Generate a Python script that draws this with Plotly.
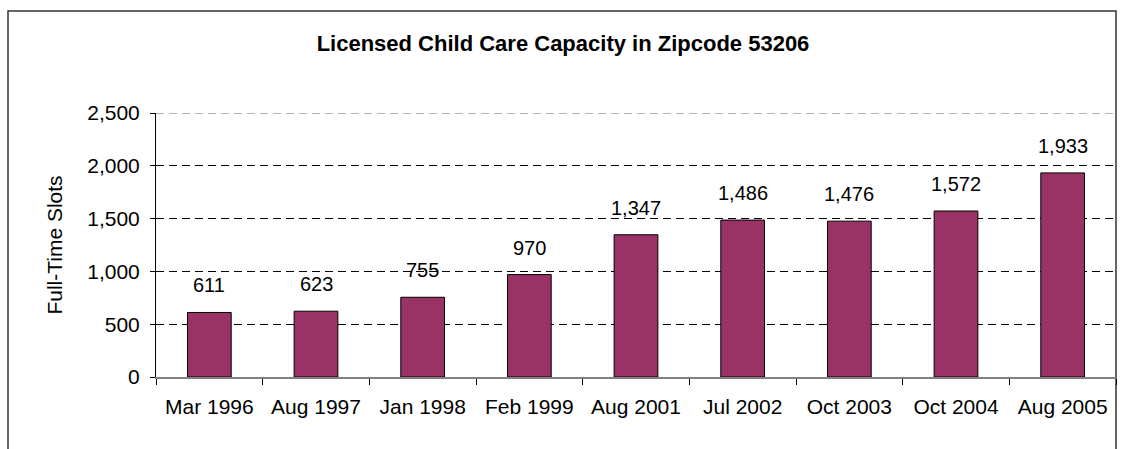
import plotly.graph_objects as go

categories = ["Mar 1996", "Aug 1997", "Jan 1998", "Feb 1999", "Aug 2001",
              "Jul 2002", "Oct 2003", "Oct 2004", "Aug 2005"]
slots = [611, 623, 755, 970, 1347, 1486, 1476, 1572, 1933]
y_ticks = [0, 500, 1000, 1500, 2000, 2500]

FONT = "Liberation Sans, Arial, sans-serif"
W, H = 1126, 449
L, R, T, B = 156, 1116, 113, 377

fig = go.Figure()
fig.add_trace(go.Bar(
    x=categories, y=slots, width=0.41,
    marker=dict(color="#993366", line=dict(color="#000000", width=1)),
    hoverinfo="x+y",
))

for c, v in zip(categories, slots):
    fig.add_annotation(x=c, y=v, text=f"{v:,}", showarrow=False,
                       yanchor="middle", yshift=27,
                       font=dict(family=FONT, size=20, color="#000000"))

pw = R - L
ph = B - T
# outer chart border
fig.add_shape(type="rect", xref="paper", yref="paper",
              x0=(8 - L) / pw, x1=(R - L) / pw,
              y0=-0.4, y1=(B - 11) / ph,
              line=dict(color="#333333", width=1.5), fillcolor="rgba(0,0,0,0)",
              layer="below")
# top gridline at the axis maximum
fig.add_shape(type="line", xref="paper", yref="y",
              x0=0, x1=1, y0=y_ticks[-1], y1=y_ticks[-1],
              line=dict(color="#999999", width=1.5, dash="8px,5px"), layer="below")

fig.update_layout(
    width=W, height=H,
    margin=dict(l=L, r=W - R, t=T, b=H - B, pad=0),
    paper_bgcolor="#ffffff", plot_bgcolor="#ffffff",
    font=dict(family=FONT, size=21, color="#000000"),
    showlegend=False,
    title=dict(text="<b>Licensed Child Care Capacity in Zipcode 53206</b>",
               x=0.5, xref="container", xanchor="center",
               y=1 - 43 / H, yref="container", yanchor="middle",
               font=dict(family=FONT, size=22, color="#000000")),
    xaxis=dict(
        type="category", tickson="boundaries", ticks="outside", ticklen=6,
        tickcolor="#000000", showline=True, linecolor="#808080", linewidth=1.5,
        showgrid=False, ticklabelstandoff=10,
        tickfont=dict(family=FONT, size=21, color="#000000"),
    ),
    yaxis=dict(
        range=[0, 2500], tickvals=y_ticks, tickformat=",",
        ticks="outside", ticklen=5, tickcolor="#000000",
        showline=True, linecolor="#000000", linewidth=1,
        showgrid=True, gridcolor="#000000", gridwidth=1, griddash="8px,5px",
        zeroline=False, ticklabelstandoff=6,
        tickfont=dict(family=FONT, size=21, color="#000000"),
        title=dict(text="Full-Time Slots", standoff=18,
                   font=dict(family=FONT, size=21, color="#000000")),
    ),
)

fig.write_html("out.html", config={"displayModeBar": False},
               post_script="document.body.style.margin='0';document.body.style.overflow='hidden';")
